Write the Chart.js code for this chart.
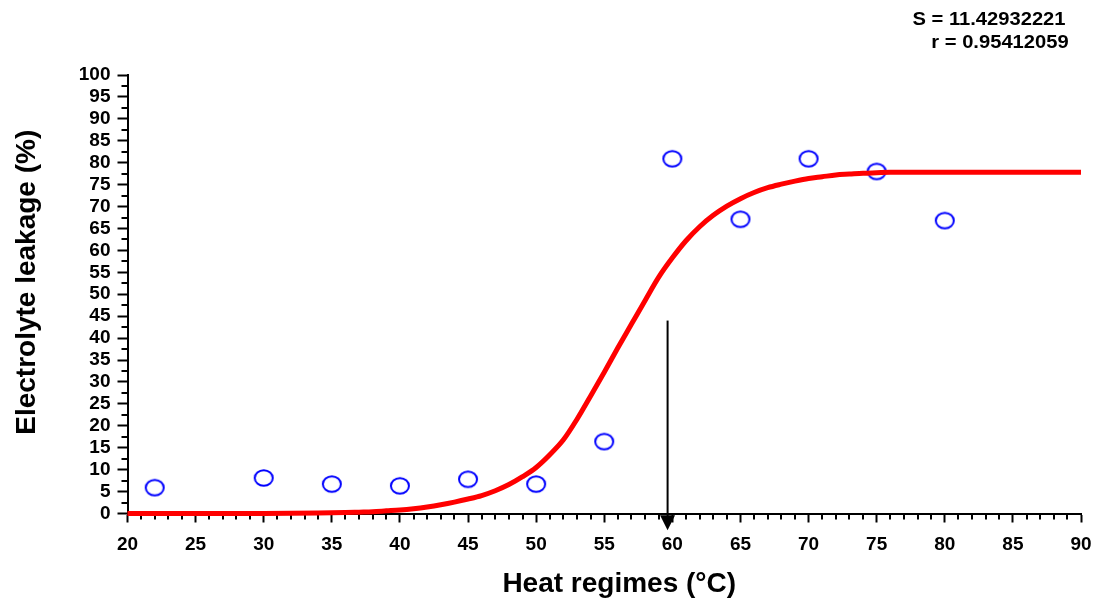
<!DOCTYPE html>
<html><head><meta charset="utf-8">
<script src="https://cdn.jsdelivr.net/npm/chart.js@4.4.1/dist/chart.umd.min.js"></script>
<style>html,body{margin:0;padding:0;background:#fff;}</style>
</head><body>
<canvas id="c" width="1094" height="602"></canvas>
<script>
// ---- data ----
const temps   = [22, 30, 35, 40, 45, 50, 55, 60, 65, 70, 75, 80];
const leakage = [5.9, 8.1, 6.7, 6.3, 7.8, 6.7, 16.4, 80.9, 67.1, 80.9, 78.0, 66.8];
const fitX = [20,25,30,34,36,37,38,39,40,41,42,43,44,45,46,47,48,49,50,51,52,53,54,55,56,57,58,59,60,61,62,63,64,65,66,67,68,69,70,71,72,73,74,75,76,78,80,85,90];
const fitY = [0,0,0,0.1,0.2,0.3,0.4,0.6,0.8,1.1,1.5,2.0,2.6,3.3,4.1,5.2,6.6,8.4,10.5,13.4,16.8,21.5,26.8,32.2,37.8,43.2,48.6,53.9,58.3,62.2,65.4,68.0,70.1,71.8,73.2,74.3,75.1,75.8,76.4,76.8,77.2,77.4,77.6,77.7,77.8,77.8,77.8,77.8,77.8];
const xRange = [20, 90];
const yRange = [0, 100];
const arrowX = [59.65];
const arrowY = [44, -3.8];
const statsLines = ['S = 11.42932221', 'r = 0.95412059'];
const xTitle = 'Heat regimes (°C)';
const yTitle = 'Electrolyte leakage (%)';

const FONT = '"Liberation Sans", Arial, sans-serif';

function ellipseMarker(w, h, lw, color) {
  const c = document.createElement('canvas');
  c.width = Math.ceil(w + lw * 2); c.height = Math.ceil(h + lw * 2);
  const g = c.getContext('2d');
  g.strokeStyle = color; g.lineWidth = lw;
  g.beginPath(); g.ellipse(c.width / 2, c.height / 2, w / 2, h / 2, 0, 0, Math.PI * 2); g.stroke();
  return c;
}
const marker = ellipseMarker(18, 15.5, 2, '#0000ff');

const decorPlugin = {
  id: 'decor',
  beforeDatasetsDraw(chart) {
    const {ctx, chartArea: a, scales: {x, y}} = chart;
    ctx.save();
    ctx.strokeStyle = '#000'; ctx.lineWidth = 2;
    ctx.beginPath();
    for (let v = xRange[0]; v <= xRange[1]; v += 1) {
      if (v % 5 === 0) continue;
      const px = Math.round(x.getPixelForValue(v));
      ctx.moveTo(px, a.bottom); ctx.lineTo(px, a.bottom + 6);
    }
    for (let v = yRange[0] + 2.5; v < yRange[1]; v += 5) {
      const py = Math.round(y.getPixelForValue(v));
      ctx.moveTo(a.left, py); ctx.lineTo(a.left - 6, py);
    }
    ctx.stroke();
    ctx.restore();
  },
  afterDatasetsDraw(chart) {
    const {ctx, chartArea: a, scales: {x, y}} = chart;
    ctx.save();
    // arrow
    const px = x.getPixelForValue(arrowX[0]);
    const top = y.getPixelForValue(arrowY[0]);
    const tip = y.getPixelForValue(arrowY[1]);
    const head = 15;
    ctx.strokeStyle = '#000'; ctx.fillStyle = '#000'; ctx.lineWidth = 2;
    ctx.beginPath(); ctx.moveTo(px, top); ctx.lineTo(px, tip - head + 1); ctx.stroke();
    ctx.beginPath(); ctx.moveTo(px - 7.5, tip - head); ctx.lineTo(px + 7.5, tip - head); ctx.lineTo(px, tip); ctx.closePath(); ctx.fill();
    // titles
    ctx.fillStyle = '#000';
    ctx.font = 'bold 28px ' + FONT;
    ctx.textAlign = 'center'; ctx.textBaseline = 'middle';
    ctx.fillText(xTitle, (a.left + a.right) / 2 + 15, a.bottom + 71);
    ctx.save();
    ctx.translate(27, (a.top + a.bottom) / 2 - 12);
    ctx.rotate(-Math.PI / 2);
    ctx.fillText(yTitle, 0, 0);
    ctx.restore();
    // stats (slightly wide lettering as in the reference)
    ctx.font = 'bold 18px ' + FONT;
    ctx.save(); ctx.translate(989, 20); ctx.scale(1.12, 1); ctx.fillText(statsLines[0], 0, 0); ctx.restore();
    ctx.save(); ctx.translate(1000, 43); ctx.scale(1.12, 1); ctx.fillText(statsLines[1], 0, 0); ctx.restore();
    ctx.restore();
  }
};

const axisCommon = {
  type: 'linear',
  grid: { drawOnChartArea: false, drawTicks: true, tickLength: 10, tickWidth: 2, tickColor: '#000' },
  border: { display: true, color: '#000', width: 2 },
  ticks: { color: '#000', font: { family: FONT, size: 19, weight: 'bold' }, autoSkip: false, maxRotation: 0, stepSize: 5 }
};

new Chart(document.getElementById('c'), {
  type: 'scatter',
  data: {
    datasets: [
      {
        type: 'line',
        label: 'fit',
        data: fitX.map((v, i) => ({x: v, y: fitY[i]})),
        borderColor: '#ff0000',
        borderWidth: 5,
        pointRadius: 0,
        cubicInterpolationMode: 'monotone',
        fill: false,
        clip: false
      },
      {
        label: 'observed',
        data: temps.map((v, i) => ({x: v, y: leakage[i]})),
        pointStyle: marker,
        pointRadius: 9,
        clip: false
      }
    ]
  },
  options: {
    responsive: false,
    animation: false,
    layout: { padding: { top: 75, right: 13, bottom: 0, left: 0 } },
    plugins: { legend: { display: false }, tooltip: { enabled: false } },
    scales: {
      x: Object.assign({}, axisCommon, {
        min: xRange[0], max: xRange[1],
        grid: Object.assign({}, axisCommon.grid, { tickLength: 9 }),
        ticks: Object.assign({}, axisCommon.ticks, { padding: 11 }),
        afterFit(s) { s.height = 88.5; s.paddingLeft = 0; s.paddingRight = 0; }
      }),
      y: Object.assign({}, axisCommon, {
        min: yRange[0], max: yRange[1],
        ticks: Object.assign({}, axisCommon.ticks, { padding: 7 }),
        afterFit(s) { s.width = 127.5; s.paddingTop = 0; s.paddingBottom = 0; }
      })
    }
  },
  plugins: [decorPlugin]
});
</script>
</body></html>
